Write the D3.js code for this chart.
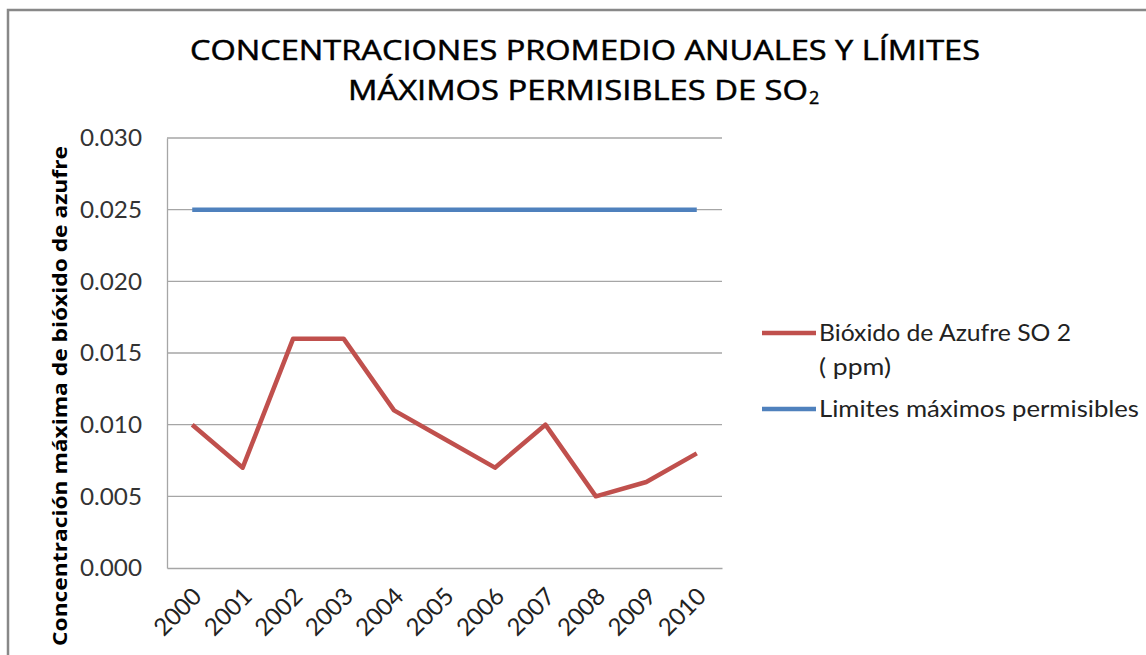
<!DOCTYPE html>
<html>
<head>
<meta charset="utf-8">
<script src="https://cdn.jsdelivr.net/npm/d3@7"></script>
<style>
  body { margin: 0; background: #fff; }
  text { font-family: "Open Sans", "DejaVu Sans", sans-serif; }
  .light { font-family: Lato, "Open Sans", sans-serif; font-weight: 400; }
</style>
</head>
<body>
<svg width="1146" height="655"></svg>
<script>
/* chart data */
var years = ["2000", "2001", "2002", "2003", "2004", "2005", "2006", "2007", "2008", "2009", "2010"];
var so2 = [0.010, 0.007, 0.016, 0.016, 0.011, 0.009, 0.007, 0.010, 0.005, 0.006, 0.008];
var limite = [0.025, 0.025, 0.025, 0.025, 0.025, 0.025, 0.025, 0.025, 0.025, 0.025, 0.025];
var yTicks = [0, 0.005, 0.010, 0.015, 0.020, 0.025, 0.030];
var seriesNames = ["Bióxido de Azufre SO 2 (ppm)", "Limites máximos permisibles"];
var colors = ["#C0504D", "#4F81BD"];

var svg = d3.select("svg"),
    margin = {top: 138, left: 167},
    width = 555,
    height = 430;

/* outer frame, cut off at right and bottom like the screenshot */
svg.append("path")
    .attr("d", "M8,655 V10 H1146")
    .attr("fill", "none")
    .attr("stroke", "#888")
    .attr("stroke-width", 2.5);

var x = d3.scaleBand().domain(years).range([0, width]),
    y = d3.scaleLinear().domain([0, 0.030]).range([height, 0]);

var g = svg.append("g")
    .attr("transform", "translate(" + margin.left + "," + margin.top + ")");

/* gridlines */
g.selectAll(".grid")
  .data(yTicks.slice(1))
  .enter().append("line")
    .attr("x1", 0).attr("x2", width)
    .attr("y1", function(d) { return y(d); })
    .attr("y2", function(d) { return y(d); })
    .attr("stroke", "#a6a6a6")
    .attr("stroke-width", 1.3);

/* y axis */
var yAxis = g.append("g")
    .call(d3.axisLeft(y).tickValues(yTicks).tickFormat(d3.format(".3f")).tickSize(0).tickPadding(25));
yAxis.select(".domain").attr("stroke", "#a6a6a6").attr("stroke-width", 1.3);
yAxis.selectAll("text")
    .attr("class", "light")
    .attr("font-size", 24)
    .attr("fill", "#333")
    .attr("textLength", 62)
    .attr("lengthAdjust", "spacingAndGlyphs")
    .attr("dy", "0.33em");

/* x axis */
var xAxis = g.append("g")
    .attr("transform", "translate(0," + height + ")")
    .call(d3.axisBottom(x).tickSize(0).tickPadding(0));
xAxis.select(".domain").attr("stroke", "#a6a6a6").attr("stroke-width", 1.3);
xAxis.selectAll("text")
    .attr("class", "light")
    .attr("font-size", 24)
    .attr("fill", "#222")
    .attr("text-anchor", "end")
    .attr("transform", "translate(5,24) rotate(-45)")
    .attr("dy", "0.35em");

/* lines */
var line = d3.line()
    .x(function(d, i) { return x(years[i]) + x.bandwidth() / 2; })
    .y(function(d) { return y(d); });

[so2, limite].forEach(function(s, k) {
  g.append("path")
    .datum(s)
    .attr("fill", "none")
    .attr("stroke", colors[k])
    .attr("stroke-width", 4.5)
    .attr("stroke-linejoin", "round")
    .attr("d", line);
});

/* title */
var title = svg.append("text")
    .attr("text-anchor", "middle")
    .attr("font-size", 27)
    .attr("fill", "#000")
    .attr("stroke", "#000")
    .attr("stroke-width", 0.5);
title.append("tspan").attr("x", 585).attr("y", 60)
    .attr("textLength", 790).attr("lengthAdjust", "spacingAndGlyphs")
    .text("CONCENTRACIONES PROMEDIO ANUALES Y LÍMITES");
title.append("tspan").attr("x", 578).attr("y", 100)
    .attr("textLength", 460).attr("lengthAdjust", "spacingAndGlyphs")
    .text("MÁXIMOS PERMISIBLES DE SO");
svg.append("text")
    .attr("x", 809).attr("y", 104)
    .attr("font-size", 18)
    .attr("stroke", "#000")
    .attr("stroke-width", 0.4)
    .text("2");

/* y axis title */
svg.append("text")
    .attr("transform", "translate(67," + 396 + ") rotate(-90)")
    .attr("text-anchor", "middle")
    .attr("font-size", 19)
    .style("font-weight", 700)
    .attr("textLength", 500)
    .attr("lengthAdjust", "spacingAndGlyphs")
    .text("Concentración máxima de bióxido de azufre");

/* legend */
var legend = svg.append("g").attr("transform", "translate(762,0)");
var legendY = [333, 409];
legend.selectAll("line")
  .data(seriesNames)
  .enter().append("line")
    .attr("x1", 0).attr("x2", 54)
    .attr("y1", function(d, i) { return legendY[i]; })
    .attr("y2", function(d, i) { return legendY[i]; })
    .attr("stroke", function(d, i) { return colors[i]; })
    .attr("stroke-width", 4.5);

legend.append("text")
    .attr("class", "light")
    .attr("x", 57).attr("y", 341)
    .attr("font-size", 24).attr("fill", "#222")
    .attr("textLength", 252).attr("lengthAdjust", "spacingAndGlyphs")
    .text("Bióxido de Azufre SO 2");
legend.append("text")
    .attr("class", "light")
    .attr("x", 57).attr("y", 375)
    .attr("font-size", 24).attr("fill", "#222")
    .attr("textLength", 72).attr("lengthAdjust", "spacingAndGlyphs")
    .text("( ppm)");
legend.append("text")
    .attr("class", "light")
    .attr("x", 57).attr("y", 417)
    .attr("font-size", 24).attr("fill", "#222")
    .attr("textLength", 320).attr("lengthAdjust", "spacingAndGlyphs")
    .text(seriesNames[1]);
</script>
</body>
</html>
